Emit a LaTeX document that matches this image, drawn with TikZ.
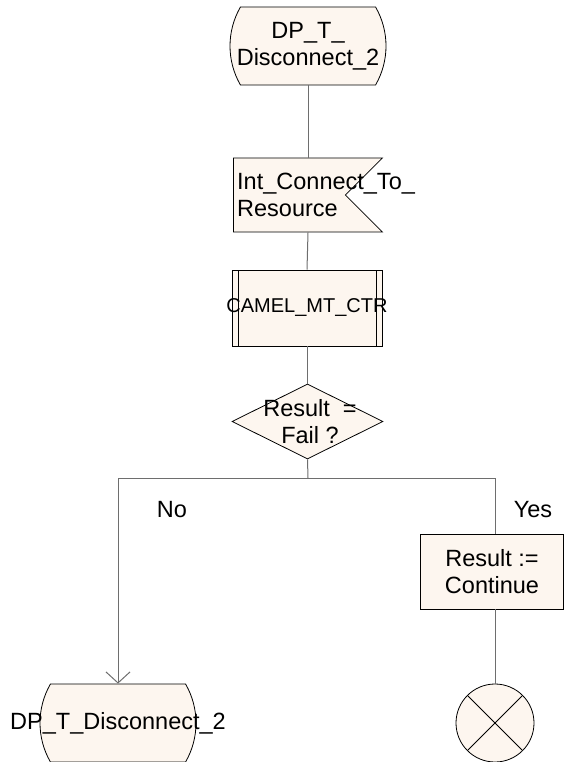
\documentclass[tikz,border=0pt]{standalone}
\usepackage{fontspec}
\setmainfont{Liberation Sans}
\usetikzlibrary{arrows.meta,positioning,shapes.geometric,shapes.misc,shapes.symbols}
\definecolor{cFill}{HTML}{FDF6EF}
\definecolor{cLink}{HTML}{6E6E6E}
\tikzset{
  lbl/.style={font=\fontsize{23.5}{27}\selectfont,align=center,inner sep=0pt},
  term/.style={rounded rectangle,rounded rectangle arc length=60,draw=black,
              fill=cFill,line width=0.8pt,minimum width=150pt,minimum height=78pt,
              lbl},
  inbox/.style={signal,signal to=nowhere,signal from=east,signal pointer angle=90,
              draw=black,fill=cFill,line width=0.8pt,minimum width=149pt,
              minimum height=74pt,inner sep=0pt},
  proc/.style={rectangle,draw=black,fill=cFill,line width=0.8pt,
              minimum width=150pt,minimum height=76pt,lbl,
              path picture={
                \draw[line width=0.8pt]
                  ([xshift=6pt]path picture bounding box.north west) --
                  ([xshift=6pt]path picture bounding box.south west)
                  ([xshift=-6pt]path picture bounding box.north east) --
                  ([xshift=-6pt]path picture bounding box.south east);}},
  decision/.style={diamond,draw=black,fill=cFill,line width=0.8pt,
              minimum width=151pt,minimum height=75pt,inner sep=0pt},
  task/.style={rectangle,draw=black,fill=cFill,line width=0.8pt,
              minimum width=143pt,minimum height=75pt,lbl},
  stopc/.style={circle,draw=black,fill=cFill,line width=0.8pt,
              minimum size=78pt,inner sep=0pt,
              path picture={
                \draw[line width=0.8pt]
                  (path picture bounding box.north west) --
                  (path picture bounding box.south east)
                  (path picture bounding box.north east) --
                  (path picture bounding box.south west);}},
  link/.style={draw=cLink,line width=1pt},
  linkarrow/.style={link,-{Straight Barb[length=11pt,width=24pt]}},
}
\begin{document}
\begin{tikzpicture}[x=1pt,y=-1pt]
  \useasboundingbox (0,0) rectangle (563,762);
  % shapes
  \node[term] (dpin) at (308,46)
    {\makebox[0pt]{DP\_T\_}\\\makebox[0pt]{Disconnect\_2}};
  \node[inbox,anchor=west] (conn) at (233,195) {};
  \node[lbl,anchor=west,align=left] (conntxt) at ([xshift=4pt]conn.west)
    {Int\_Connect\_To\_\\Resource};
  \node[proc] (ctr) at (307,308)
    {\makebox[0pt]{\fontsize{20}{24}\selectfont CAMEL\_MT\_CTR}};
  \node[decision] (dec) at (307.5,421.5) {};
  \node[lbl] (dectxt) at (310,422) {Result\ \ =\\Fail ?};
  \node[task] (res) at (492,571.5) {Result :=\\Continue};
  \node[stopc] (stop) at (495,723) {};
  \node[term] (dpout) at (118,723) {\makebox[0pt]{DP\_T\_Disconnect\_2}};
  % branches
  \coordinate (fork) at (308,478);
  \coordinate (ytop) at (495,478);
  \node[lbl] (nolbl) at (172,510) {No};
  \node[lbl] (yeslbl) at (533,510) {Yes};
  % connectors
  \draw[link] (dpin.south) -- (dpin.south |- conn.north);
  \draw[link] (dpin.south |- conn.south) -- (ctr.north);
  \draw[link] (ctr.south) -- (ctr.south |- dec.north);
  \draw[link] (dec.south) -- (fork);
  \draw[linkarrow] (fork) -| (dpout.north);
  \draw[link] (fork) -- (ytop) -- (ytop |- res.north);
  \draw[link] (res.south -| stop.north) -- (stop.north);
\end{tikzpicture}
\end{document}
